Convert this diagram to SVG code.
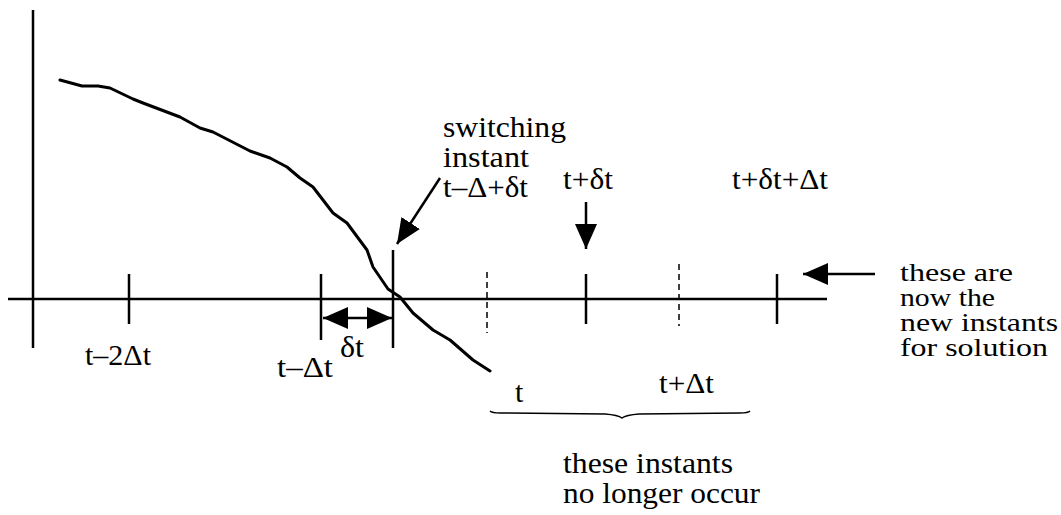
<svg xmlns="http://www.w3.org/2000/svg" width="1061" height="515" viewBox="0 0 1061 515">
<style>
.ax{stroke:#000;stroke-width:2.5;fill:none}
.tk{stroke:#000;stroke-width:2.5;fill:none}
.ds{stroke:#000;stroke-width:1.5;stroke-dasharray:6,4;fill:none}
.cv{stroke:#000;stroke-width:3;fill:none;stroke-linejoin:round;stroke-linecap:round}
.ar{stroke:#000;stroke-width:2.5;fill:none}
.br{stroke:#000;stroke-width:1.5;fill:none}
.lb{font-size:30px;fill:#000}
.sm{font-size:25px;fill:#000}
</style>
<defs>
<marker id="ah" markerUnits="userSpaceOnUse" markerWidth="26" markerHeight="22" refX="25" refY="11" orient="auto-start-reverse" viewBox="0 0 26 22">
<path d="M0,0 L25,11 L0,22 z" fill="#000"/>
</marker>
</defs>
<g id="axes">
<line class="ax" x1="33" y1="10" x2="33" y2="348"/>
<line class="ax" x1="8" y1="299" x2="827" y2="299"/>
</g>
<g id="ticks">
<line class="tk" x1="129" y1="274" x2="129" y2="324"/>
<line class="tk" x1="321" y1="274" x2="321" y2="340"/>
<line class="tk" x1="393" y1="250" x2="393" y2="348"/>
<line class="ds" x1="487" y1="272" x2="487" y2="333"/>
<line class="tk" x1="586" y1="274" x2="586" y2="324"/>
<line class="ds" x1="679" y1="264" x2="679" y2="326"/>
<line class="tk" x1="777" y1="274" x2="777" y2="324"/>
</g>
<g id="curve">
<polyline class="cv" points="60,80 82,86 98,86 110,88 133,99 143,103 180,117 200,128 213,132 250,151 270,158 287,167 300,178 313,187 333,213 347,223 367,250 373,267 388,289 400,297 413,313 433,330 450,340 473,360 490,371"/>
</g>
<g id="connectors">
<line class="ar" x1="440" y1="178" x2="397" y2="244" marker-end="url(#ah)"/>
<line class="ar" x1="586" y1="202" x2="586" y2="249" marker-end="url(#ah)"/>
<line class="ar" x1="875" y1="274" x2="803" y2="274" marker-end="url(#ah)"/>
<line class="ar" x1="323" y1="318" x2="392" y2="318" marker-start="url(#ah)" marker-end="url(#ah)"/>
<path class="br" d="M490,411 Q492,413 500,413 L605,414 Q618,415 622,418 Q626,415 639,414 L740,413 Q748,413 750,411"/>
</g>
<g id="labels" font-family="Liberation Serif, Tinos, Times New Roman, Times, Nimbus Roman, FreeSerif, Noto Serif, DejaVu Serif, serif">
<text class="lb" x="443" y="137" textLength="123" lengthAdjust="spacingAndGlyphs">switching</text>
<text class="lb" x="443" y="167" textLength="86" lengthAdjust="spacingAndGlyphs">instant</text>
<text class="lb" x="443" y="197" textLength="85" lengthAdjust="spacingAndGlyphs">t–Δ+δt</text>
<text class="lb" x="563" y="189" textLength="50" lengthAdjust="spacingAndGlyphs">t+δt</text>
<text class="lb" x="732" y="189" textLength="96" lengthAdjust="spacingAndGlyphs">t+δt+Δt</text>
<text class="lb" x="85" y="365" textLength="66" lengthAdjust="spacingAndGlyphs">t–2Δt</text>
<text class="lb" x="277" y="377" textLength="56" lengthAdjust="spacingAndGlyphs">t–Δt</text>
<text class="lb" x="340" y="357" textLength="24" lengthAdjust="spacingAndGlyphs">δt</text>
<text class="lb" x="515" y="402">t</text>
<text class="lb" x="659" y="393" textLength="55" lengthAdjust="spacingAndGlyphs">t+Δt</text>
<text class="lb" x="563" y="473" textLength="170" lengthAdjust="spacingAndGlyphs">these instants</text>
<text class="lb" x="563" y="503" textLength="197" lengthAdjust="spacingAndGlyphs">no longer occur</text>
<text class="sm" x="900" y="281" textLength="113" lengthAdjust="spacingAndGlyphs">these are</text>
<text class="sm" x="900" y="306" textLength="95" lengthAdjust="spacingAndGlyphs">now the</text>
<text class="sm" x="900" y="331" textLength="158" lengthAdjust="spacingAndGlyphs">new instants</text>
<text class="sm" x="900" y="356" textLength="148" lengthAdjust="spacingAndGlyphs">for solution</text>
</g>
</svg>
